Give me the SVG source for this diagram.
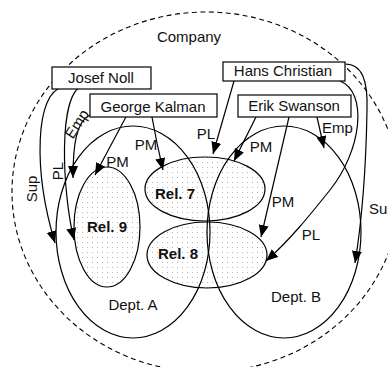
<svg xmlns="http://www.w3.org/2000/svg" width="388" height="367" viewBox="0 0 388 367">
<defs>
<pattern id="dots" width="5" height="5" patternUnits="userSpaceOnUse"><rect width="5" height="5" fill="#fff"/><rect x="2" y="2" width="1" height="1" fill="#b4b4b4"/></pattern>
<marker id="arr" markerUnits="userSpaceOnUse" markerWidth="13" markerHeight="11" refX="12" refY="5" orient="auto"><path d="M0,0 L12,5 L0,10 z" fill="#000"/></marker>
</defs>
<style>
text{font-family:"Liberation Sans",Arial,sans-serif;font-size:15px;fill:#111}
.b{font-weight:bold}
.m{text-anchor:middle}
.rel{fill:url(#dots);stroke:#000;stroke-width:1.2}
.dept{fill:none;stroke:#000;stroke-width:1.2}
.box{fill:#fff;stroke:#000;stroke-width:1.2}
.c{fill:none;stroke:#000;stroke-width:1.2;marker-end:url(#arr)}
</style>
<g id="company">
<ellipse cx="206" cy="192" rx="194" ry="180" fill="none" stroke="#000" stroke-width="1.1" stroke-dasharray="5,3.5"/>
<text class="m" x="189" y="42">Company</text>
</g>
<g id="rel9"><ellipse class="rel" cx="107" cy="227" rx="33" ry="60"/><text class="b m" x="107" y="232">Rel. 9</text></g>
<g id="rel7"><ellipse class="rel" cx="205" cy="189" rx="60" ry="32"/><text class="b m" x="175" y="199">Rel. 7</text></g>
<g id="rel8"><ellipse class="rel" cx="207" cy="255" rx="60" ry="33"/><text class="b m" x="178" y="259">Rel. 8</text></g>
<g id="deptA"><ellipse class="dept" cx="133" cy="232" rx="77" ry="106"/><text class="m" x="133" y="310">Dept. A</text></g>
<g id="deptB"><ellipse class="dept" cx="284" cy="232" rx="77" ry="106"/><text class="m" x="296" y="302">Dept. B</text></g>
<g id="connectors">
<path class="c" d="M63,87 C35,92 33,170 55,243"/>
<path class="c" d="M82,86 C58,95 62,190 74,240"/>
<path class="c" d="M90,115 C76,122 73,145 73,178"/>
<path class="c" d="M127,115 L95,175"/>
<path class="c" d="M152,117 Q157,145 163,170"/>
<path class="c" d="M234,81 L213,154"/>
<path class="c" d="M340,81 C368,92 362,150 330,190 C310,215 290,240 266,261"/>
<path class="c" d="M345,64 C362,64 368,80 367,110 C366,170 362,220 355,263"/>
<path class="c" d="M256,117 L234,161"/>
<path class="c" d="M289,117 L261,237"/>
<path class="c" d="M317,117 L324,148"/>
<text transform="translate(32,189) rotate(-90)" y="5" class="m">Sup</text>
<text transform="translate(57.5,171) rotate(-90)" y="5" class="m">PL</text>
<text transform="translate(77,124) rotate(-57)" y="5" class="m">Emp</text>
<text class="m" x="117.5" y="167">PM</text>
<text class="m" x="146" y="150">PM</text>
<text class="m" x="206" y="139">PL</text>
<text class="m" x="261" y="152">PM</text>
<text class="m" x="283" y="207">PM</text>
<text class="m" x="311" y="240">PL</text>
<text x="322" y="133">Emp</text>
<text x="369" y="214">Sup</text>
</g>
<g id="josef"><rect class="box" x="52" y="67" width="99" height="22"/><text class="m" x="101" y="83">Josef Noll</text></g>
<g id="george"><rect class="box" x="90" y="94" width="127" height="23"/><text class="m" x="153" y="112">George Kalman</text></g>
<g id="hans"><rect class="box" x="223" y="62" width="122" height="19"/><text class="m" x="283" y="76">Hans Christian</text></g>
<g id="erik"><rect class="box" x="238" y="95" width="113" height="22"/><text class="m" x="294" y="111">Erik Swanson</text></g>
</svg>
